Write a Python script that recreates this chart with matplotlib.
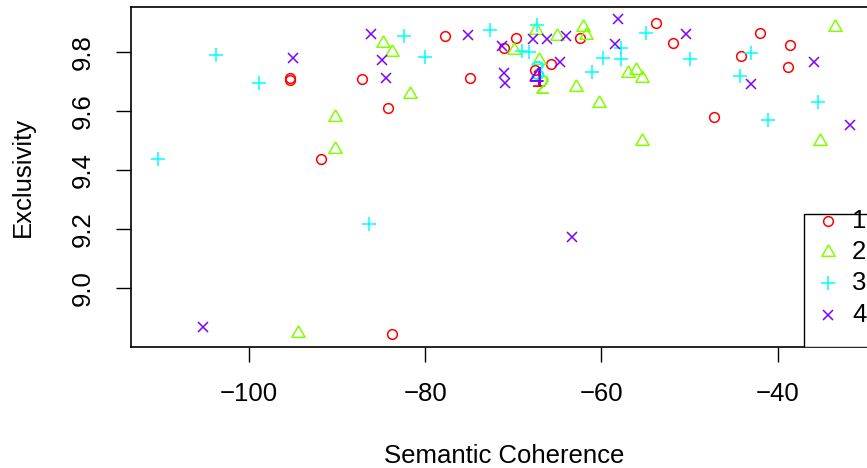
import matplotlib.pyplot as plt
import numpy as np

# ==================== DATA ====================
# semantic coherence / exclusivity of each of the 20 topics, one pair of lists per model
model_labels = ['1', '2', '3', '4']
model_colors = ['#FF0000', '#80FF00', '#00FFFF', '#8000FF']

semcoh_1 = [-95.39, -95.39, -87.17, -91.83, -84.22, -77.75, -74.88, -71.04, -69.75, -62.44,
            -65.77, -67.56, -53.85, -51.85, -42.00, -38.67, -44.19, -38.85, -47.22, -83.72]
exclus_1 = [9.712, 9.705, 9.709, 9.438, 9.609, 9.854, 9.711, 9.814, 9.848, 9.848,
            9.759, 9.740, 9.899, 9.833, 9.867, 9.824, 9.788, 9.751, 9.581, 8.843]

semcoh_2 = [-90.20, -90.24, -84.79, -83.72, -81.76, -69.94, -67.48, -65.02, -62.14, -61.76,
            -67.07, -62.90, -56.96, -56.08, -55.44, -60.25, -33.48, -35.26, -55.44, -94.40]
exclus_2 = [9.581, 9.470, 9.833, 9.800, 9.657, 9.808, 9.876, 9.855, 9.887, 9.857,
            9.774, 9.681, 9.729, 9.740, 9.711, 9.626, 9.885, 9.499, 9.499, 8.847]

semcoh_3 = [-103.71, -98.80, -110.27, -82.40, -80.05, -72.70, -69.00, -68.20, -67.36, -54.98,
            -57.82, -57.82, -59.87, -61.12, -49.95, -43.05, -44.27, -41.12, -35.49, -86.38]
exclus_3 = [9.791, 9.697, 9.437, 9.855, 9.785, 9.876, 9.805, 9.802, 9.893, 9.865,
            9.814, 9.777, 9.780, 9.732, 9.776, 9.797, 9.720, 9.570, 9.632, 9.218]

semcoh_4 = [-95.01, -86.19, -84.90, -84.40, -75.20, -71.27, -71.08, -70.89, -67.75, -66.23,
            -64.07, -58.09, -58.47, -64.72, -50.40, -35.94, -43.05, -31.77, -63.39, -105.16]
exclus_4 = [9.782, 9.861, 9.774, 9.711, 9.858, 9.822, 9.729, 9.697, 9.845, 9.844,
            9.855, 9.912, 9.827, 9.768, 9.862, 9.768, 9.692, 9.553, 9.172, 8.868]

semcoh = [semcoh_1, semcoh_2, semcoh_3, semcoh_4]
exclus = [exclus_1, exclus_2, exclus_3, exclus_4]

x_ticks = [-100, -80, -60, -40]
y_ticks = [9.0, 9.2, 9.4, 9.6, 9.8]

# ==================== STYLE ====================
plt.rcParams['font.family'] = ['Liberation Sans', 'DejaVu Sans']
FS = 18.5

# R-like symbols: pch 1, 2 (equilateral triangle centred on its centroid), 3, 4
tri = [(0, 1.555), (-1.347, -0.778), (1.347, -0.778), (0, 1.555)]
markers = ['o', tri, '+', 'x']
msizes = [7.0, 11.0, 10.0, 7.5]
MEW = 1.1

W, H = 867, 468
# plot box in pixels (right edge falls outside the picture, like the reference)
AX_L, AX_R, AX_T, AX_B = 130.7, 878.0, 6.7, 346.5

fig = plt.figure(figsize=(W / 100, H / 100), dpi=100)
ax = fig.add_axes([AX_L / W, 1 - AX_B / H, (AX_R - AX_L) / W, (AX_B - AX_T) / H])

for xs, ys, c, m, ms in zip(semcoh, exclus, model_colors, markers, msizes):
    ax.plot(xs, ys, linestyle='none', marker=m, markersize=ms, markerfacecolor='none',
            markeredgecolor=c, markeredgewidth=MEW, clip_on=False)

# model means as big numbers
for xs, ys, c, lab in zip(semcoh, exclus, model_colors, model_labels):
    ax.text(np.mean(xs), np.mean(ys), lab, color=c, fontsize=20, ha='center', va='center')

# R default axis range: data range + 4% each side
all_x = np.concatenate(semcoh)
all_y = np.concatenate(exclus)
dx = (all_x.max() - all_x.min()) * 0.04
dy = (all_y.max() - all_y.min()) * 0.04
ax.set_xlim(all_x.min() - dx, all_x.max() + dx)
ax.set_ylim(all_y.min() - dy, all_y.max() + dy)

ax.set_xticks(x_ticks)
ax.set_xticklabels([f'\u2212{abs(v)}' for v in x_ticks])
ax.set_yticks(y_ticks)
ax.set_yticklabels([f'{v:.1f}' for v in y_ticks], rotation=90, va='center')
ax.tick_params(axis='both', direction='out', length=10.8, width=1.0, labelsize=FS)
ax.tick_params(axis='x', pad=15.0)
ax.tick_params(axis='y', pad=15.0)
for s in ax.spines.values():
    s.set_linewidth(1.2)

ax.set_xlabel('Semantic Coherence', fontsize=FS, va='center')
ax.xaxis.set_label_coords(0.5, (AX_B - 456) / (AX_B - AX_T))
ax.set_ylabel('Exclusivity', fontsize=FS, va='center')
ax.yaxis.set_label_coords((23 - AX_L) / (AX_R - AX_L), 0.5)

# ==================== LEGEND (R style box at bottom right) ====================
def frac(px, py):
    return (px - AX_L) / (AX_R - AX_L), (AX_B - py) / (AX_B - AX_T)

bx, by = frac(804, 346.5)
bw, bh = frac(AX_R + 20, 214)
ax.add_patch(plt.Rectangle((bx, by), bw - bx, bh - by, transform=ax.transAxes,
                           facecolor='white', edgecolor='black', linewidth=1.0,
                           clip_on=True, zorder=5))
legend_y = [220.7, 251.7, 283.3, 315.0]
for lab, c, m, ms, py in zip(model_labels, model_colors, markers, msizes, legend_y):
    sx, sy = frac(828, py)
    ax.plot([sx], [sy], transform=ax.transAxes, linestyle='none', marker=m, markersize=ms,
            markerfacecolor='none', markeredgecolor=c, markeredgewidth=MEW,
            clip_on=False, zorder=6)
    tx, ty = frac(852, py)
    ax.text(tx, ty, lab, transform=ax.transAxes, fontsize=FS, ha='left', va='center',
            zorder=6)

plt.savefig('out.png', dpi=100)
plt.close()
